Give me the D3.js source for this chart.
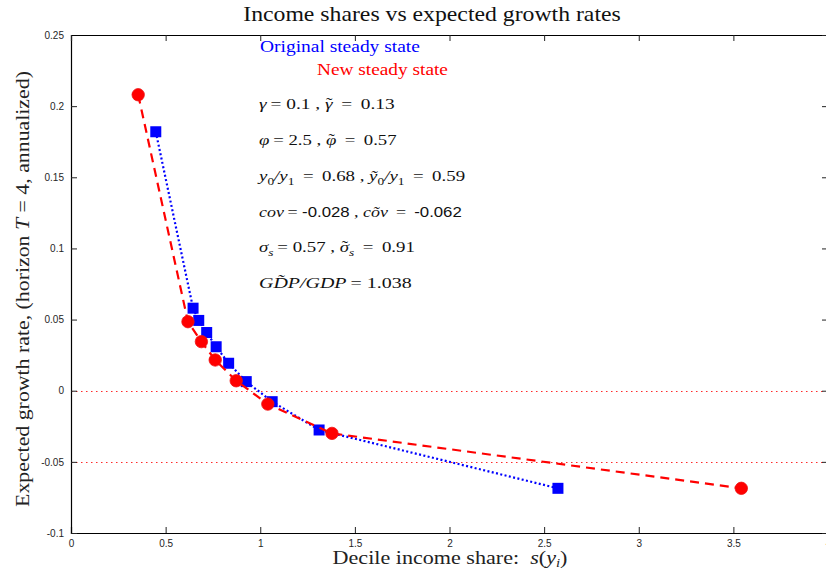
<!DOCTYPE html>
<html>
<head>
<meta charset="utf-8">
<script src="https://cdn.jsdelivr.net/npm/d3@7"></script>
<style>
  html, body { margin: 0; padding: 0; background: #fff; }
  svg { display: block; }
  .tick text { font-family: "Liberation Sans", Arial, sans-serif; font-size: 10px; fill: #262626; }
  .serif { font-family: "Liberation Serif", "Times New Roman", serif; white-space: pre; }
</style>
</head>
<body>
<svg id="chart" width="826" height="573"></svg>
<script>
// Income shares vs expected growth rates — two steady states

const xTicks = [0, 0.5, 1, 1.5, 2, 2.5, 3, 3.5, 4];
const yTicks = [-0.1, -0.05, 0, 0.05, 0.1, 0.15, 0.2, 0.25];
const refLines = [0, -0.05];

// Original steady state (blue squares)
const origShare = [0.448, 0.645, 0.675, 0.717, 0.767, 0.833, 0.926, 1.063, 1.311, 2.573];
const origGrowth = [0.182, 0.058, 0.0494, 0.0409, 0.0309, 0.0193, 0.0064, -0.0077, -0.0276, -0.0686];

// New steady state (red circles)
const newShare = [0.355, 0.618, 0.689, 0.762, 0.873, 1.040, 1.379, 3.542];
const newGrowth = [0.208, 0.0485, 0.0345, 0.0216, 0.0070, -0.0094, -0.0300, -0.0686];

const plotL = 71, plotT = 35, plotB = 533, plotR = 828;

const svg = d3.select('#chart');

const x = d3.scaleLinear().domain([0, 4]).range([plotL, plotR]);
const y = d3.scaleLinear().domain([-0.1, 0.25]).range([plotB, plotT]);
const fmt = d => String(+d.toFixed(2));

// stretch a text horizontally so it spans the width the TeX font gives
function fitText(sel, tx, ty, width, rot) {
  const w = sel.node().getBBox().width;
  const k = width / w;
  sel.attr('x', 0).attr('y', 0)
    .attr('transform', `translate(${tx},${ty})${rot ? ' rotate(' + rot + ')' : ''} scale(${k},1)`);
  return sel;
}

// reference lines (red dotted)
svg.append('g').selectAll('line').data(refLines).enter().append('line')
  .attr('x1', x(0)).attr('x2', x(4))
  .attr('y1', d => Math.round(y(d)) + 0.5).attr('y2', d => Math.round(y(d)) + 0.5)
  .attr('stroke', '#ff2a2a').attr('stroke-width', 1)
  .attr('stroke-dasharray', '1.5,3.5');

// axes box with inward ticks
svg.append('g').attr('transform', `translate(0,${plotB})`)
  .call(d3.axisBottom(x).tickValues(xTicks).tickFormat(fmt).tickSize(-6).tickPadding(6))
  .call(g => g.selectAll('.tick text').attr('dy', '0.75em'));
svg.append('g').attr('transform', `translate(${plotL},0)`)
  .call(d3.axisLeft(y).tickValues(yTicks).tickFormat(fmt).tickSize(-6).tickPadding(7));
svg.append('g').attr('transform', `translate(0,${plotT})`)
  .call(d3.axisTop(x).tickValues(xTicks).tickFormat('').tickSize(-6));
svg.append('g').attr('transform', `translate(${plotR},0)`)
  .call(d3.axisRight(y).tickValues(yTicks).tickFormat('').tickSize(-6));
svg.selectAll('.domain').attr('stroke', '#000').attr('stroke-width', 1.2);
svg.selectAll('.tick line').attr('stroke', '#222');

// series lines
const origPts = origShare.map((s, i) => [s, origGrowth[i]]);
const newPts = newShare.map((s, i) => [s, newGrowth[i]]);
const line = d3.line().x(d => x(d[0])).y(d => y(d[1]));

svg.append('path').datum(origPts).attr('d', line)
  .attr('fill', 'none').attr('stroke', '#0000ff').attr('stroke-width', 2.2)
  .attr('stroke-dasharray', '2,2.4');

svg.selectAll('.sq').data(origPts).enter().append('rect')
  .attr('class', 'sq')
  .attr('x', d => x(d[0]) - 5.5).attr('y', d => y(d[1]) - 5.5)
  .attr('width', 11).attr('height', 11)
  .attr('fill', '#0000ff');

svg.append('path').datum(newPts).attr('d', line)
  .attr('fill', 'none').attr('stroke', '#ff0000').attr('stroke-width', 2.2)
  .attr('stroke-dasharray', '9,6');

svg.selectAll('.dot').data(newPts).enter().append('circle')
  .attr('class', 'dot')
  .attr('cx', d => x(d[0])).attr('cy', d => y(d[1]))
  .attr('r', 6.2)
  .attr('fill', '#ff0000').attr('stroke', '#ee1111').attr('stroke-width', 0.8);

// title and axis labels
fitText(svg.append('text').attr('class', 'serif').attr('text-anchor', 'middle')
  .attr('font-size', 20).attr('fill', '#111').text('Income shares vs expected growth rates'),
  432, 21, 378);

const xl = svg.append('text').attr('class', 'serif')
  .attr('text-anchor', 'middle').attr('font-size', 18).attr('fill', '#222');
xl.append('tspan').text('Decile income share:  ');
xl.append('tspan').attr('font-style', 'italic').text('s');
xl.append('tspan').text('(');
xl.append('tspan').attr('font-style', 'italic').text('y');
xl.append('tspan').attr('font-style', 'italic').attr('font-size', 12).attr('dy', 3).text('i');
xl.append('tspan').attr('dy', -3).text(')');
fitText(xl, 450, 564, 235);

const yl = svg.append('text').attr('class', 'serif')
  .attr('text-anchor', 'middle').attr('font-size', 18).attr('fill', '#222');
yl.append('tspan').text('Expected growth rate, (horizon ');
yl.append('tspan').attr('font-style', 'italic').text('T');
yl.append('tspan').text(' = 4, annualized)');
fitText(yl, 29, 289, 436, -90);

// legend
fitText(svg.append('text').attr('class', 'serif')
  .attr('font-size', 16).attr('fill', '#0000ff').text('Original steady state'), 260, 52, 160);
fitText(svg.append('text').attr('class', 'serif')
  .attr('font-size', 16).attr('fill', '#ff0000').text('New steady state'), 317, 75, 131);

// parameter annotations: each line is a list of [text, style] pieces
// styles: i = italic, sub / isub = subscript, sans = text-mode number, tilde = accent on previous glyph
const th = '\u2009';
const notes = [
  [['γ', 'i'], [th + '= 0.1 , '], ['γ', 'i'], ['˜', 'tilde'], [th + ' = ' + th + '0.13']],
  [['φ', 'i'], [th + '= 2.5 , '], ['φ', 'i'], ['˜', 'tilde'], [th + ' = ' + th + '0.57']],
  [['y', 'i'], ['0', 'sub'], ['/', 'i'], ['y', 'i'], ['1', 'sub'], [th + ' = ' + th + '0.68 , '], ['ỹ', 'i'], ['0', 'sub'], ['/', 'i'], ['y', 'i'], ['1', 'sub'], [th + ' = ' + th + '0.59']],
  [['cov', 'i'], [th + '= '], ['-0.028', 'sans'], [' , '], ['cõv', 'i'], [th + ' = ' + th], ['-0.062', 'sans']],
  [['σ', 'i'], ['s', 'isub'], [th + '= 0.57 , '], ['σ', 'i'], ['˜', 'tilde'], ['s', 'isub'], [th + ' = ' + th + '0.91']],
  [['GD̃P/GDP', 'i'], [th + '= 1.038']]
];
const noteY = [109, 145, 181, 217, 252, 288];
const noteW = [136, 138, 209, 203, 156, 153];
const baseOff = { sub: 4, isub: 4, tilde: -1.5 };

notes.forEach((parts, i) => {
  const t = svg.append('text').attr('class', 'serif')
    .attr('font-size', 15.5).attr('fill', '#111');
  let shift = 0;
  let prevW = 0;
  let carry = 0;   // horizontal step still owed after an accent
  parts.forEach(([s, style]) => {
    const ts = t.append('tspan').text(s);
    const off = baseOff[style] || 0;
    if (off - shift) ts.attr('dy', off - shift);
    shift = off;
    if (style === 'sub' || style === 'isub') ts.attr('font-size', 11);
    if (style === 'i' || style === 'isub') ts.attr('font-style', 'italic');
    if (style === 'sans') ts.attr('font-family', '"Liberation Sans", Arial, sans-serif').attr('font-size', 14.5);
    if (style === 'tilde') {
      // pull the accent back over the glyph just drawn
      const tw = ts.node().getComputedTextLength();
      ts.attr('dx', -(prevW + tw) / 2 + 0.5);
      carry = (prevW - tw) / 2 - 0.5;
    } else {
      if (carry) { ts.attr('dx', carry); carry = 0; }
      prevW = ts.node().getComputedTextLength();
    }
  });
  fitText(t, 259, noteY[i], noteW[i]);
});
</script>
</body>
</html>
